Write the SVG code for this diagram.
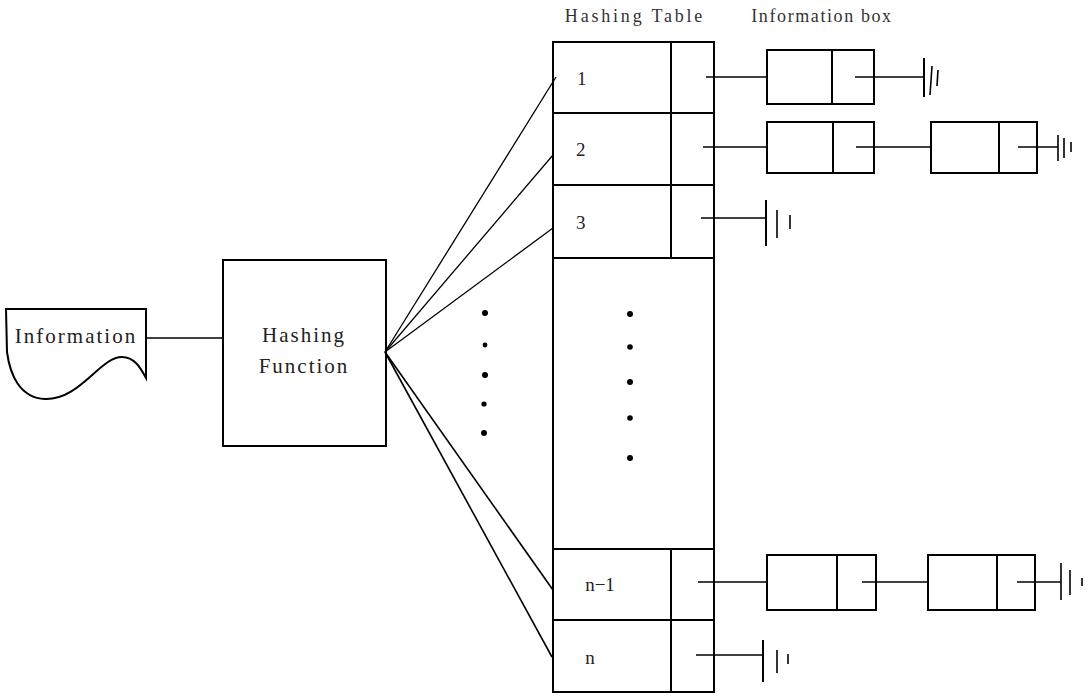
<svg xmlns="http://www.w3.org/2000/svg" width="1088" height="698" viewBox="0 0 1088 698">
<style>
.b{fill:none;stroke:#000;stroke-width:2}
.l{fill:none;stroke:#000;stroke-width:1.6}
.f{fill:none;stroke:#000;stroke-width:1.3}
.t{font-family:"Liberation Serif","DejaVu Serif",serif;font-size:21px;letter-spacing:2px;fill:#222}
.h{font-family:"Liberation Serif","DejaVu Serif",serif;font-size:18px;fill:#333}
.s{font-family:"Liberation Serif","DejaVu Serif",serif;font-size:19px;fill:#222}
.d{fill:#000}
</style>
<rect width="1088" height="698" fill="#fff"/>

<text class="h" x="635" y="22" text-anchor="middle" letter-spacing="2.8" font-family="Liberation Serif, serif">Hashing Table</text>
<text class="h" x="822" y="22" text-anchor="middle" letter-spacing="1.6" font-family="Liberation Serif, serif">Information box</text>

<g id="information">
<path class="b" d="M6,309 L146,309 L146,378 C141,369 135,357 122,357 C100,357 80,400 45,399 C20,398 10,375 7,352 Z"/>
<text class="t" x="76" y="343" text-anchor="middle" letter-spacing="1.6" font-family="Liberation Serif, serif">Information</text>
</g>

<g id="hashing-function">
<rect class="b" x="223" y="260" width="163" height="186"/>
<text class="t" x="304" y="342" text-anchor="middle" font-family="Liberation Serif, serif">Hashing</text>
<text class="t" x="304" y="373" text-anchor="middle" font-family="Liberation Serif, serif">Function</text>
</g>

<g id="hashing-table">
<rect class="b" x="553" y="42" width="161" height="650"/>
<line class="b" x1="553" y1="113" x2="714" y2="113"/>
<line class="b" x1="553" y1="185" x2="714" y2="185"/>
<line class="b" x1="553" y1="258" x2="714" y2="258"/>
<line class="b" x1="553" y1="549" x2="714" y2="549"/>
<line class="b" x1="553" y1="620" x2="714" y2="620"/>
<line class="b" x1="671" y1="42" x2="671" y2="258"/>
<line class="b" x1="671" y1="549" x2="671" y2="692"/>
<text class="s" x="577" y="85" font-family="Liberation Serif, serif">1</text>
<text class="s" x="576" y="156" font-family="Liberation Serif, serif">2</text>
<text class="s" x="576" y="229" font-family="Liberation Serif, serif">3</text>
<text class="s" x="600" y="591" text-anchor="middle" font-family="Liberation Serif, serif">n−1</text>
<text class="s" x="590" y="664" text-anchor="middle" font-family="Liberation Serif, serif">n</text>
<circle class="d" cx="630" cy="314" r="3"/>
<circle class="d" cx="630" cy="347" r="2.8"/>
<circle class="d" cx="630" cy="382" r="3"/>
<circle class="d" cx="630" cy="418" r="2.8"/>
<circle class="d" cx="630" cy="458" r="3"/>
</g>

<g id="dots-left">
<circle class="d" cx="485" cy="313" r="3"/>
<circle class="d" cx="485" cy="345" r="2.4"/>
<circle class="d" cx="485" cy="375" r="3"/>
<circle class="d" cx="484" cy="404" r="2.6"/>
<circle class="d" cx="484" cy="433" r="3"/>
</g>

<g id="info-row1">
<rect class="b" x="767" y="50" width="107" height="54"/>
<line class="b" x1="832" y1="50" x2="832" y2="104"/>
</g>
<g id="info-row2a">
<rect class="b" x="767" y="122" width="107" height="51"/>
<line class="b" x1="833" y1="122" x2="833" y2="173"/>
</g>
<g id="info-row2b">
<rect class="b" x="931" y="122" width="106" height="51"/>
<line class="b" x1="999" y1="122" x2="999" y2="173"/>
</g>
<g id="info-rown1a">
<rect class="b" x="767" y="555" width="109" height="55"/>
<line class="b" x1="837" y1="555" x2="837" y2="610"/>
</g>
<g id="info-rown1b">
<rect class="b" x="928" y="555" width="107" height="55"/>
<line class="b" x1="997" y1="555" x2="997" y2="610"/>
</g>

<g id="connectors">
<line class="l" x1="146" y1="338" x2="223" y2="338"/>
<line class="f" x1="385" y1="352" x2="556" y2="77"/>
<line class="f" x1="385" y1="352" x2="553" y2="155"/>
<line class="f" x1="385" y1="352" x2="553" y2="228"/>
<line class="l" x1="385" y1="352" x2="553" y2="590"/>
<line class="l" x1="385" y1="352" x2="552" y2="657"/>

<line class="l" x1="706" y1="77" x2="767" y2="77"/>
<line class="l" x1="855" y1="77" x2="924" y2="77"/>
<line class="b" x1="924" y1="58" x2="924" y2="97"/>
<line class="l" x1="932" y1="66" x2="930" y2="95"/>
<line class="l" x1="938" y1="70" x2="937" y2="86"/>

<line class="l" x1="703" y1="147" x2="767" y2="147"/>
<line class="l" x1="856" y1="147" x2="931" y2="147"/>
<line class="l" x1="1018" y1="147" x2="1058" y2="147"/>
<line class="l" x1="1058" y1="135" x2="1058" y2="161"/>
<line class="l" x1="1064" y1="138" x2="1064" y2="158"/>
<line class="l" x1="1071" y1="142" x2="1071" y2="152"/>

<line class="l" x1="701" y1="218" x2="766" y2="218"/>
<line class="b" x1="766" y1="200" x2="766" y2="246"/>
<line class="l" x1="777" y1="210" x2="777" y2="238"/>
<line class="l" x1="790" y1="215" x2="790" y2="229"/>

<line class="l" x1="698" y1="582" x2="767" y2="582"/>
<line class="l" x1="862" y1="582" x2="928" y2="582"/>
<line class="l" x1="1017" y1="582" x2="1061" y2="582"/>
<line class="l" x1="1061" y1="563" x2="1061" y2="600"/>
<line class="l" x1="1070" y1="570" x2="1070" y2="595"/>
<line class="l" x1="1082" y1="578" x2="1082" y2="586"/>

<line class="l" x1="696" y1="655" x2="763" y2="655"/>
<line class="b" x1="763" y1="640" x2="763" y2="682"/>
<line class="l" x1="777" y1="650" x2="777" y2="673"/>
<line class="l" x1="788" y1="654" x2="788" y2="664"/>
</g>
</svg>
